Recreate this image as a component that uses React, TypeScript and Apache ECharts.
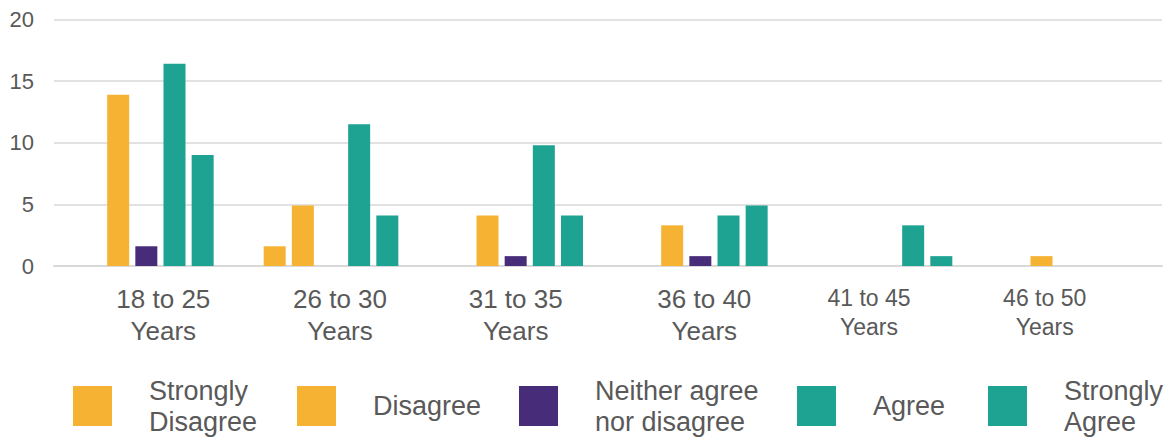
import React, { useEffect, useRef } from "react";
import * as echarts from "echarts";

// Age bands on the category axis
const categories = [
  "18 to 25 Years",
  "26 to 30 Years",
  "31 to 35 Years",
  "36 to 40 Years",
  "41 to 45 Years",
  "46 to 50 Years",
];

// Responses per age band
const stronglyDisagree = [0, 1.6, 0, 0, 0, 0];
const disagree = [13.9, 4.9, 4.1, 3.3, 0, 0.8];
const neither = [1.6, 0, 0.8, 0.8, 0, 0];
const agree = [16.4, 11.5, 9.8, 4.1, 3.3, 0];
const stronglyAgree = [9.0, 4.1, 4.1, 4.9, 0.8, 0];

const seriesNames = [
  "Strongly Disagree",
  "Disagree",
  "Neither agree nor disagree",
  "Agree",
  "Strongly Agree",
];
const legendLabels = [
  "Strongly\nDisagree",
  "Disagree",
  "Neither agree\nnor disagree",
  "Agree",
  "Strongly\nAgree",
];
const seriesColors = ["#F6B233", "#F6B233", "#472C7A", "#1EA292", "#1EA292"];
const seriesValues = [stronglyDisagree, disagree, neither, agree, stronglyAgree];

// Value axis range
const yMin = 0;
const yMax = 20;
const yStep = 5;

const FONT = "'Liberation Sans', Arial, Helvetica, sans-serif";
const TEXT = "#595959";
const GRID = "#D9D9D9";

// horizontal nudge of each category label (px)
const labelShift = [17, 9, 0, 4, -16, -25];

export default function App() {
  const ref = useRef<HTMLDivElement>(null);

  useEffect(() => {
    document.body.style.margin = "0";
    if (!ref.current) return;
    const chart = echarts.init(ref.current, undefined, { renderer: "svg" });

    const legendLeft = [73, 297, 519, 797, 988];

    const rich: Record<string, any> = {};
    labelShift.forEach((dx, i) => {
      const small = i >= 4;
      rich["c" + i] = {
        fontFamily: FONT,
        fontSize: small ? 23 : 26,
        lineHeight: small ? 29 : 32,
        color: TEXT,
        padding: dx >= 0 ? [0, 0, 0, 2 * dx] : [0, -2 * dx, 0, 0],
      };
    });

    chart.setOption({
      animation: false,
      backgroundColor: "#ffffff",
      textStyle: { fontFamily: FONT, color: TEXT },
      grid: { left: 54, right: 9, top: 19.5, bottom: 176, containLabel: false },
      xAxis: {
        type: "category",
        data: categories,
        axisLine: { show: true, lineStyle: { color: GRID, width: 2 } },
        axisTick: { show: false },
        axisLabel: {
          margin: 17,
          fontFamily: FONT,
          fontSize: 26,
          lineHeight: 32,
          color: TEXT,
          interval: 0,
          formatter: (v: string, i: number) => {
            const head = v.split(" Years")[0];
            return `{c${i}|${head}}\n{c${i}|Years}`;
          },
          rich,
        },
      },
      yAxis: {
        type: "value",
        min: yMin,
        max: yMax,
        interval: yStep,
        axisLine: { show: false },
        axisTick: { show: false },
        splitLine: { lineStyle: { color: GRID, width: 1.5 } },
        axisLabel: { margin: 20, fontFamily: FONT, fontSize: 22, color: TEXT },
      },
      legend: seriesNames.map((name, i) => ({
        data: [name],
        left: legendLeft[i],
        top: legendLabels[i].includes("\n") ? 375 : 386,
        padding: 0,
        itemWidth: 39,
        itemHeight: 40,
        icon: "rect",
        selectedMode: false,
        formatter: () => legendLabels[i],
        textStyle: {
          fontFamily: FONT,
          fontSize: 27,
          lineHeight: 31,
          color: TEXT,
          padding: [0, 0, 0, 32],
        },
      })),
      series: seriesNames.map((name, i) => ({
        name,
        type: "bar",
        data: seriesValues[i],
        barWidth: 22,
        barGap: "28%",
        itemStyle: { color: seriesColors[i] },
      })),
    });

    return () => chart.dispose();
  }, []);

  return <div ref={ref} style={{ width: 1171, height: 442 }} />;
}
